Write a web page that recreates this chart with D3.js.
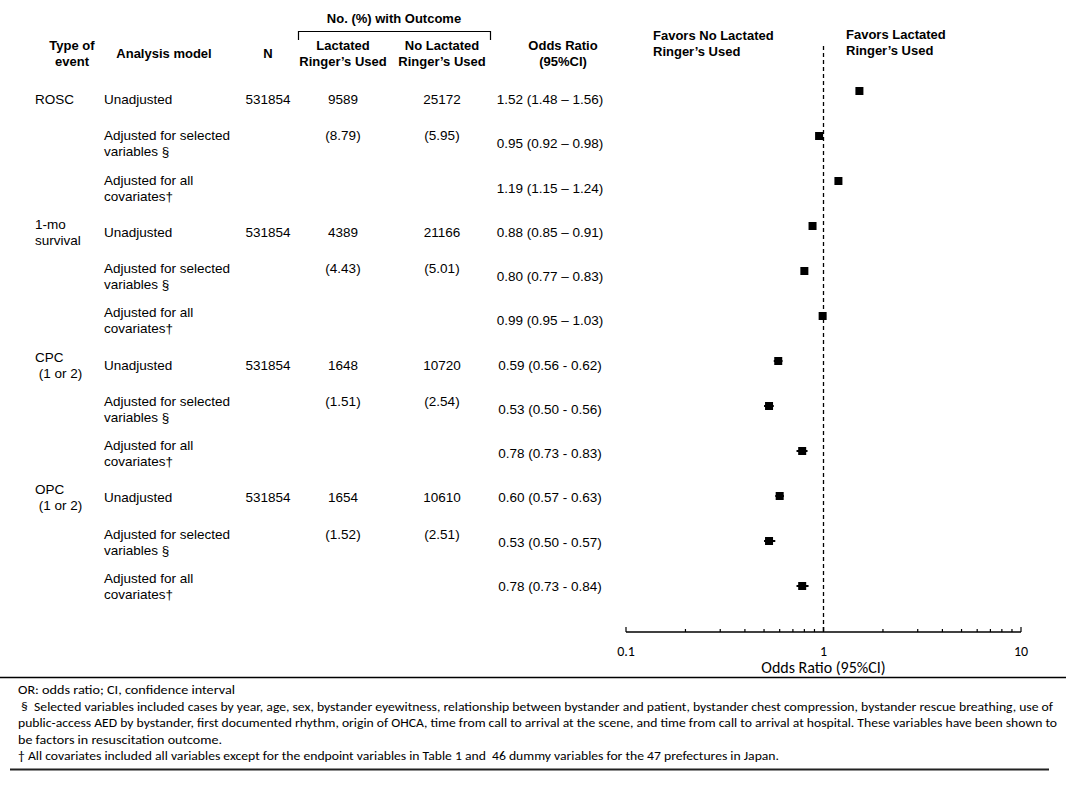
<!DOCTYPE html>
<meta charset="utf-8">
<script src="https://d3js.org/d3.v7.min.js"></script>
<style>
  body { margin: 0; background: #fff; }
  text { fill: #000; }
</style>
<div id="forest"></div>
<script>
  // table data
  var events = ["ROSC", "", "", "1-mo|survival", "", "", "CPC| (1 or 2)", "", "", "OPC| (1 or 2)", "", ""];
  var models = ["Unadjusted", "Adjusted for selected|variables §", "Adjusted for all|covariates\u2020",
    "Unadjusted", "Adjusted for selected|variables §", "Adjusted for all|covariates\u2020",
    "Unadjusted", "Adjusted for selected|variables §", "Adjusted for all|covariates\u2020",
    "Unadjusted", "Adjusted for selected|variables §", "Adjusted for all|covariates\u2020"];
  var nTotal = ["531854", "", "", "531854", "", "", "531854", "", "", "531854", "", ""];
  var lactated = ["9589", "(8.79)", "", "4389", "(4.43)", "", "1648", "(1.51)", "", "1654", "(1.52)", ""];
  var noLactated = ["25172", "(5.95)", "", "21166", "(5.01)", "", "10720", "(2.54)", "", "10610", "(2.51)", ""];
  var orValue = [1.52, 0.95, 1.19, 0.88, 0.80, 0.99, 0.59, 0.53, 0.78, 0.60, 0.53, 0.78];
  var orLow = [1.48, 0.92, 1.15, 0.85, 0.77, 0.95, 0.56, 0.50, 0.73, 0.57, 0.50, 0.73];
  var orHigh = [1.56, 0.98, 1.24, 0.91, 0.83, 1.03, 0.62, 0.56, 0.83, 0.63, 0.57, 0.84];
  var orText = ["1.52 (1.48 \u2013 1.56)", "0.95 (0.92 \u2013 0.98)", "1.19 (1.15 \u2013 1.24)",
    "0.88 (0.85 \u2013 0.91)", "0.80 (0.77 \u2013 0.83)", "0.99 (0.95 \u2013 1.03)",
    "0.59 (0.56 - 0.62)", "0.53 (0.50 - 0.56)", "0.78 (0.73 - 0.83)",
    "0.60 (0.57 - 0.63)", "0.53 (0.50 - 0.57)", "0.78 (0.73 - 0.84)"];
  var axisTicks = [0.1, 1, 10];
  var footnotes = [
    "OR: odds ratio; CI, confidence interval",
    " \u00a7  Selected variables included cases by year, age, sex, bystander eyewitness, relationship between bystander and patient, bystander chest compression, bystander rescue breathing, use of",
    "public-access AED by bystander, first documented rhythm, origin of OHCA, time from call to arrival at the scene, and time from call to arrival at hospital. These variables have been shown to",
    "be factors in resuscitation outcome.",
    "\u2020 All covariates included all variables except for the endpoint variables in Table 1 and  46 dummy variables for the 47 prefectures in Japan."
  ];
  var footWidths = [217, 1035, 1039, 204, 761];

  var width = 1066, height = 800;
  var sans = "'Liberation Sans', Arial, sans-serif";
  var humanist = "Carlito, 'Open Sans', sans-serif";

  var svg = d3.select("#forest").append("svg")
    .attr("width", width)
    .attr("height", height);

  var rows = d3.range(orValue.length);
  var yText = d3.scaleLinear().domain([0, 11]).range([100, 587]);
  var yMark = d3.scaleLinear().domain([0, 11]).range([91, 586]);
  var x = d3.scaleLog().domain([0.1, 10]).range([626, 1021]);

  // header
  var head = svg.append("g")
    .style("font-family", sans)
    .style("font-size", "13px")
    .style("font-weight", "bold")
    .attr("text-anchor", "middle");
  head.append("text").attr("x", 394).attr("y", 23).text("No. (%) with Outcome");
  svg.append("path")
    .attr("d", "M298.5,40V31.5H490.5V40")
    .attr("fill", "none").attr("stroke", "#000").attr("stroke-width", 1.2);
  var heads = [
    { x: 72, lines: ["Type of", "event"] },
    { x: 164, lines: ["Analysis model"] },
    { x: 268, lines: ["N"] },
    { x: 343, lines: ["Lactated", "Ringer\u2019s Used"] },
    { x: 442, lines: ["No Lactated", "Ringer\u2019s Used"] },
    { x: 563, lines: ["Odds Ratio", "(95%CI)"] }
  ];
  heads.forEach(function (h) {
    var t = head.append("text").attr("x", h.x).attr("y", h.lines.length == 1 ? 58 : 50);
    h.lines.forEach(function (l, i) {
      t.append("tspan").attr("x", h.x).attr("dy", i ? 16 : 0).text(l);
    });
  });
  head.append("text").attr("text-anchor", "start").attr("x", 653).attr("y", 40).text("Favors No Lactated");
  head.append("text").attr("text-anchor", "start").attr("x", 653).attr("y", 56).text("Ringer\u2019s Used");
  head.append("text").attr("text-anchor", "start").attr("x", 846).attr("y", 39).text("Favors Lactated");
  head.append("text").attr("text-anchor", "start").attr("x", 846).attr("y", 55).text("Ringer\u2019s Used");

  // table body
  var body = svg.append("g")
    .style("font-family", sans)
    .style("font-size", "13.5px");

  function multi(sel, xpos, anchor, accessor) {
    sel.each(function (i) {
      var parts = accessor(i).split("|");
      if (!parts[0]) return;
      var t = d3.select(this).append("text")
        .attr("text-anchor", anchor)
        .attr("y", yText(i) + (parts.length > 1 ? -4 : 4));
      parts.forEach(function (p, k) {
        t.append("tspan").attr("x", xpos).attr("dy", k ? 16 : 0).text(p);
      });
    });
  }

  var rowG = body.selectAll("g.row").data(rows).enter().append("g").attr("class", "row");
  multi(rowG, 35, "start", function (i) { return events[i]; });
  multi(rowG, 104, "start", function (i) { return models[i]; });
  multi(rowG, 268, "middle", function (i) { return nTotal[i]; });
  rowG.each(function (i) {
    var g = d3.select(this);
    var off = lactated[i].charAt(0) == "(" ? -4 : 4;
    if (lactated[i]) g.append("text").attr("x", 343).attr("y", yText(i) + off).attr("text-anchor", "middle").text(lactated[i]);
    if (noLactated[i]) g.append("text").attr("x", 442).attr("y", yText(i) + off).attr("text-anchor", "middle").text(noLactated[i]);
    g.append("text").attr("x", 550).attr("y", yText(i) + 4).attr("text-anchor", "middle").text(orText[i]);
  });

  // reference line at OR = 1
  svg.append("line")
    .attr("x1", x(1)).attr("x2", x(1))
    .attr("y1", 46).attr("y2", 632)
    .attr("stroke", "#000").attr("stroke-width", 1.3)
    .attr("stroke-dasharray", "4,3");

  // CI whiskers and squares
  var marks = svg.append("g");
  marks.selectAll("line.ci").data(rows).enter().append("line")
    .attr("class", "ci")
    .attr("x1", function (i) { return x(orLow[i]); })
    .attr("x2", function (i) { return x(orHigh[i]); })
    .attr("y1", function (i) { return yMark(i); })
    .attr("y2", function (i) { return yMark(i); })
    .attr("stroke", "#000").attr("stroke-width", 2);
  marks.selectAll("rect").data(rows).enter().append("rect")
    .attr("x", function (i) { return x(orValue[i]) - 4; })
    .attr("y", function (i) { return yMark(i) - 4; })
    .attr("width", 8).attr("height", 8)
    .attr("fill", "#000");

  // log axis with ticks pointing up
  var minor = [];
  for (var d = 0.1; d < 10; d *= 10) {
    for (var k = 1; k <= 10; k++) minor.push(+(d * k).toFixed(2));
  }
  var axisG = svg.append("g").attr("transform", "translate(0,632)");
  axisG.append("line").attr("x1", x(0.1)).attr("x2", x(10)).attr("stroke", "#000").attr("stroke-width", 1.3);
  axisG.selectAll("line.tick").data(minor).enter().append("line")
    .attr("class", "tick")
    .attr("x1", function (v) { return x(v); }).attr("x2", function (v) { return x(v); })
    .attr("y1", 0).attr("y2", function (v) { return axisTicks.indexOf(v) >= 0 ? -5 : -3; })
    .attr("stroke", "#000").attr("stroke-width", 1.2);
  axisG.selectAll("text").data(axisTicks).enter().append("text")
    .attr("x", function (v) { return x(v); })
    .attr("y", 24)
    .attr("text-anchor", "middle")
    .style("font-family", humanist)
    .style("font-size", "14px")
    .text(function (v) { return String(v); });
  svg.append("text")
    .attr("x", x(1)).attr("y", 673)
    .attr("text-anchor", "middle")
    .style("font-family", humanist)
    .style("font-size", "16px")
    .text("Odds Ratio (95%CI)");

  // separators
  svg.append("line").attr("x1", 0).attr("x2", 1066).attr("y1", 677.5).attr("y2", 677.5)
    .attr("stroke", "#000").attr("stroke-width", 1.3);
  svg.append("line").attr("x1", 10).attr("x2", 1049).attr("y1", 769.5).attr("y2", 769.5)
    .attr("stroke", "#222").attr("stroke-width", 2);

  // footnotes
  svg.append("g").selectAll("text").data(footnotes).enter().append("text")
    .attr("x", 18)
    .attr("y", function (t, i) { return 694 + i * 16.6; })
    .style("font-family", humanist)
    .style("font-size", "12px")
    .attr("textLength", function (t, i) { return footWidths[i]; })
    .attr("lengthAdjust", "spacingAndGlyphs")
    .style("white-space", "pre")
    .text(function (t) { return t; });
</script>
